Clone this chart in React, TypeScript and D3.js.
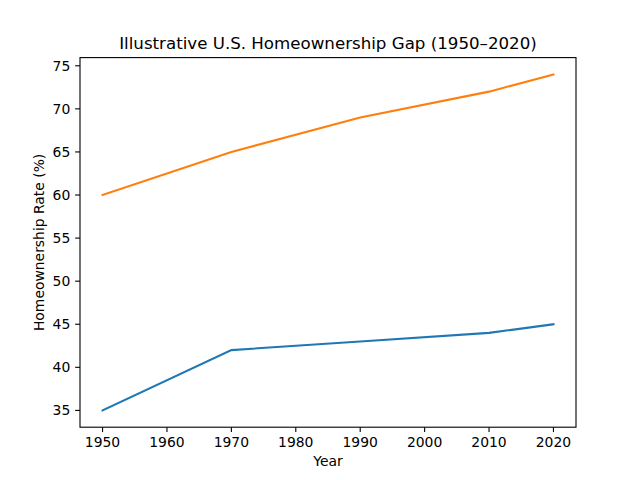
import React from "react";
import * as d3 from "d3";

const years = [1950, 1970, 1990, 2010, 2020];
const seriesA = [35, 42, 43, 44, 45];
const seriesB = [60, 65, 69, 72, 74];
const xTicks = [1950, 1960, 1970, 1980, 1990, 2000, 2010, 2020];
const yTicks = [35, 40, 45, 50, 55, 60, 65, 70, 75];
const title = "Illustrative U.S. Homeownership Gap (1950–2020)";
const xLabel = "Year";
const yLabel = "Homeownership Rate (%)";

export default function App() {
  const W = 640, H = 480;
  const L = 80, R = 576, T = 57.6, B = 427.2;
  const xMin = 1950, xMax = 2020;
  const xPad = (xMax - xMin) * 0.05;
  const all = [...seriesA, ...seriesB];
  const yMin = d3.min(all)!, yMax = d3.max(all)!;
  const yPad = (yMax - yMin) * 0.05;
  const x = d3.scaleLinear().domain([xMin - xPad, xMax + xPad]).range([L, R]);
  const y = d3.scaleLinear().domain([yMin - yPad, yMax + yPad]).range([B, T]);
  const line = d3.line<[number, number]>().x(d => x(d[0])).y(d => y(d[1]));
  const dA = line(years.map((yr, i) => [yr, seriesA[i]]))!;
  const dB = line(years.map((yr, i) => [yr, seriesB[i]]))!;
  const font = "DejaVu Sans, sans-serif";
  return (
    <svg width={W} height={H} style={{ position: "absolute", left: 0, top: 0, display: "block" }} fontFamily={font}>
      <rect width={W} height={H} fill="#fff" />
      <path d={dA} fill="none" stroke="#1f77b4" strokeWidth={2.08} strokeLinecap="square" />
      <path d={dB} fill="none" stroke="#ff7f0e" strokeWidth={2.08} strokeLinecap="square" />
      <rect x={L} y={T} width={R - L} height={B - T} fill="none" stroke="#000" strokeWidth={1.1} />
      {xTicks.map(t => (
        <g key={t}>
          <line x1={x(t)} x2={x(t)} y1={B} y2={B + 4.86} stroke="#000" strokeWidth={1.1} />
          <text x={x(t)} y={B + 4.86 + 4.86} dy="0.76em" textAnchor="middle" fontSize={13.9} fill="#000">{t}</text>
        </g>
      ))}
      {yTicks.map(t => (
        <g key={t}>
          <line x1={L - 4.86} x2={L} y1={y(t)} y2={y(t)} stroke="#000" strokeWidth={1.1} />
          <text x={L - 4.86 - 4.86} y={y(t)} dy="0.35em" textAnchor="end" fontSize={13.9} fill="#000">{t}</text>
        </g>
      ))}
      <text x={(L + R) / 2} y={466} textAnchor="middle" fontSize={13.9} fill="#000">{xLabel}</text>
      <text transform={`translate(44, ${(T + B) / 2}) rotate(-90)`} textAnchor="middle" fontSize={13.9} fill="#000">{yLabel}</text>
      <text x={(L + R) / 2} y={49.3} textAnchor="middle" fontSize={16.67} fill="#000">{title}</text>
    </svg>
  );
}
